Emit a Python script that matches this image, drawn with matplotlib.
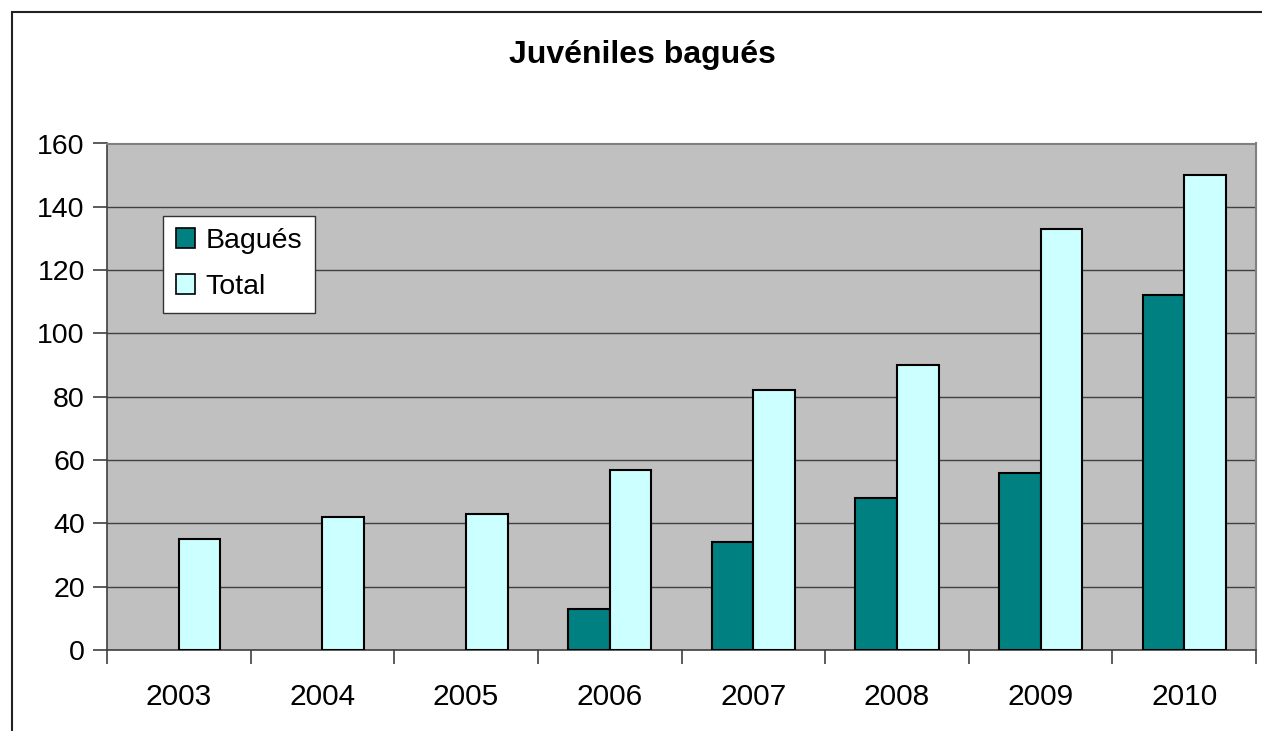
import matplotlib.pyplot as plt
import numpy as np
from matplotlib.patches import Rectangle, Patch

# values
years = ["2003", "2004", "2005", "2006", "2007", "2008", "2009", "2010"]
bagues = [0, 0, 0, 13, 34, 48, 56, 112]
total = [35, 42, 43, 57, 82, 90, 133, 150]

plt.rcParams["font.family"] = ["Liberation Sans", "DejaVu Sans"]

W, H = 1262, 731
fig = plt.figure(figsize=(W / 100, H / 100), dpi=100)

# outer chart frame (only top and left edges show in the reference)
fig.add_artist(Rectangle((11.5 / W, -0.1), 1.2, 1 - 12 / H + 0.1,
                         transform=fig.transFigure, fill=False,
                         edgecolor="#222222", linewidth=1.5))

left, right, top, bottom = 107, 1256, 143.5, 650
ax = fig.add_axes([left / W, (H - bottom) / H,
                   (right - left) / W, (bottom - top) / H])
ax.set_facecolor("#C0C0C0")

teal, cyan = "#008080", "#CCFFFF"
x = np.arange(len(years))
width = 0.29
b1 = ax.bar(x - width / 2, bagues, width, color=teal,
            edgecolor="black", linewidth=1.5, zorder=3)
ax.bar(x + width / 2, total, width, color=cyan,
       edgecolor="black", linewidth=1.5, zorder=3)
# empty years draw no outline
for patch, v in zip(b1.patches, bagues):
    if v == 0:
        patch.set_visible(False)

ax.set_xlim(-0.5, len(years) - 0.5)
ax.set_ylim(0, 160)
ax.set_yticks(range(0, 161, 20))
ax.yaxis.grid(True, color="#404040", linewidth=1.0, zorder=1)
ax.set_axisbelow(True)

ax.set_xticks(np.arange(-0.5, len(years), 1.0))
ax.set_xticklabels([])
ax.set_xticks(x, minor=True)
ax.set_xticklabels(years, minor=True)
ax.tick_params(axis="x", which="minor", length=0, pad=24, labelsize=21.5)
ax.tick_params(axis="x", which="major", length=10, width=1.2,
               color="#404040", direction="out")
ax.tick_params(axis="y", length=10, width=1.2, color="#404040",
               direction="out", labelsize=20.5, pad=6)

for side in ["top", "right"]:
    ax.spines[side].set_color("#808080")
    ax.spines[side].set_linewidth(1.5)
for side in ["left", "bottom"]:
    ax.spines[side].set_color("#404040")
    ax.spines[side].set_linewidth(1.2)

fig.text(642 / W, 1 - 55 / H, "Juvéniles bagués", ha="center", va="center",
         fontsize=23, fontweight="bold")

handles = [Patch(facecolor=teal, edgecolor="black", linewidth=1.2, label="Bagués"),
           Patch(facecolor=cyan, edgecolor="black", linewidth=1.2, label="Total")]
leg = ax.legend(handles=handles, loc="upper left",
                bbox_to_anchor=(55.7 / (right - left), 1 - 72 / (bottom - top)),
                fontsize=20.5, frameon=True, fancybox=False, framealpha=1,
                edgecolor="#333333", handlelength=0.7, handleheight=0.7,
                handletextpad=0.35, borderpad=0.45, labelspacing=0.7,
                borderaxespad=0)
leg.get_frame().set_linewidth(1.0)

plt.savefig("out.png", dpi=100)
plt.close()
